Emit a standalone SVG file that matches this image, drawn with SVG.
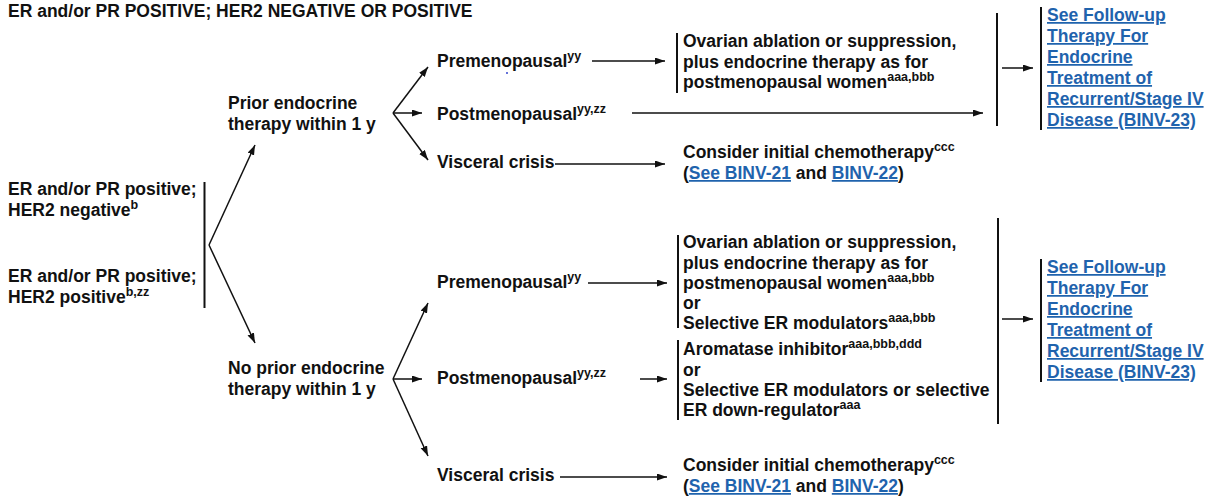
<svg xmlns="http://www.w3.org/2000/svg" width="1210" height="497" viewBox="0 0 1210 497">
  <style>
    text { font-family: "Liberation Sans", Arial, sans-serif; font-weight: bold; font-size: 17.5px; fill: #111; }
    .sup { font-size: 12.5px; }
    .link { fill: #1f63ad; text-decoration: underline; }
    .bar { stroke: #111; stroke-width: 2; fill: none; }
    .conn { stroke: #111; stroke-width: 1.5; fill: none; }
    .arrow { marker-end: url(#head); }
  </style>
  <defs>
    <marker id="head" markerUnits="userSpaceOnUse" markerWidth="11" markerHeight="8" refX="10" refY="3.5" orient="auto">
      <path d="M0,0 L10,3.5 L0,7 z" fill="#111"/>
    </marker>
  </defs>

  <rect width="1210" height="497" fill="#fff"/>

  <!-- heading -->
  <g id="title">
    <text x="8" y="16.5">ER and/or PR POSITIVE; HER2 NEGATIVE OR POSITIVE</text>
  </g>

  <!-- entry criteria -->
  <g id="receptor-status">
    <text x="8" y="195">ER and/or PR positive;</text>
    <text x="8" y="216">HER2 negative<tspan class="sup" dy="-7">b</tspan></text>
    <text x="8" y="282">ER and/or PR positive;</text>
    <text x="8" y="303">HER2 positive<tspan class="sup" dy="-7">b,zz</tspan></text>
    <line class="bar" x1="204.5" y1="182" x2="204.5" y2="308"/>
  </g>

  <g id="prior-endocrine">
    <text x="228" y="109">Prior endocrine</text>
    <text x="228" y="130">therapy within 1 y</text>
  </g>

  <g id="no-prior-endocrine">
    <text x="228" y="374">No prior endocrine</text>
    <text x="228" y="395">therapy within 1 y</text>
  </g>

  <!-- prior therapy branch -->
  <g id="prior-premenopausal">
    <text x="437" y="67">Premenopausal<tspan class="sup" dy="-7.5">yy</tspan></text>
  </g>
  <g id="prior-postmenopausal">
    <text x="437" y="120">Postmenopausal<tspan class="sup" dy="-7.5">yy,zz</tspan></text>
  </g>
  <g id="prior-visceral">
    <text x="437" y="168">Visceral crisis</text>
  </g>

  <g id="prior-ovarian">
    <line class="bar" x1="677" y1="33" x2="677" y2="93"/>
    <text x="683" y="47">Ovarian ablation or suppression,</text>
    <text x="683" y="67.5">plus endocrine therapy as for</text>
    <text x="683" y="88">postmenopausal women<tspan class="sup" dy="-7">aaa,bbb</tspan></text>
  </g>

  <g id="prior-chemo">
    <text x="683" y="158">Consider initial chemotherapy<tspan class="sup" dy="-7.5">ccc</tspan></text>
    <text x="683" y="179">(<tspan class="link">See BINV-21</tspan> and <tspan class="link">BINV-22</tspan>)</text>
  </g>

  <g id="prior-followup">
    <line class="bar" x1="997" y1="13" x2="997" y2="126"/>
    <line class="bar" x1="1041" y1="7" x2="1041" y2="130"/>
    <text class="link" x="1047" y="21">See Follow-up</text>
    <text class="link" x="1047" y="42">Therapy For</text>
    <text class="link" x="1047" y="63">Endocrine</text>
    <text class="link" x="1047" y="84">Treatment of</text>
    <text class="link" x="1047" y="105">Recurrent/Stage IV</text>
    <text class="link" x="1047" y="126">Disease (BINV-23)</text>
  </g>

  <!-- no prior therapy branch -->
  <g id="noprior-premenopausal">
    <text x="437" y="288">Premenopausal<tspan class="sup" dy="-7.5">yy</tspan></text>
  </g>
  <g id="noprior-postmenopausal">
    <text x="437" y="384">Postmenopausal<tspan class="sup" dy="-7.5">yy,zz</tspan></text>
  </g>
  <g id="noprior-visceral">
    <text x="437" y="481">Visceral crisis</text>
  </g>

  <g id="noprior-ovarian">
    <line class="bar" x1="678" y1="235" x2="678" y2="328"/>
    <text x="683" y="248">Ovarian ablation or suppression,</text>
    <text x="683" y="268.5">plus endocrine therapy as for</text>
    <text x="683" y="289">postmenopausal women<tspan class="sup" dy="-7">aaa,bbb</tspan></text>
    <text x="683" y="309">or</text>
    <text x="683" y="329">Selective ER modulators<tspan class="sup" dy="-7">aaa,bbb</tspan></text>
  </g>

  <g id="noprior-aromatase">
    <line class="bar" x1="678" y1="340" x2="678" y2="420"/>
    <text x="683" y="355">Aromatase inhibitor<tspan class="sup" dy="-7">aaa,bbb,ddd</tspan></text>
    <text x="683" y="375.5">or</text>
    <text x="683" y="396">Selective ER modulators or selective</text>
    <text x="683" y="416">ER down-regulator<tspan class="sup" dy="-7">aaa</tspan></text>
  </g>

  <g id="noprior-chemo">
    <text x="683" y="471">Consider initial chemotherapy<tspan class="sup" dy="-7.5">ccc</tspan></text>
    <text x="683" y="492">(<tspan class="link">See BINV-21</tspan> and <tspan class="link">BINV-22</tspan>)</text>
  </g>

  <g id="noprior-followup">
    <line class="bar" x1="998" y1="218" x2="998" y2="424"/>
    <line class="bar" x1="1041" y1="259" x2="1041" y2="382"/>
    <text class="link" x="1047" y="273">See Follow-up</text>
    <text class="link" x="1047" y="294">Therapy For</text>
    <text class="link" x="1047" y="315">Endocrine</text>
    <text class="link" x="1047" y="336">Treatment of</text>
    <text class="link" x="1047" y="357">Recurrent/Stage IV</text>
    <text class="link" x="1047" y="378">Disease (BINV-23)</text>
  </g>

  <!-- stray mark under the upper Premenopausal label -->
  <circle cx="507" cy="73" r="1" fill="#3344cc"/>

  <g id="connectors">
    <line class="conn arrow" x1="209" y1="245" x2="255" y2="145"/>
    <line class="conn arrow" x1="209" y1="245" x2="255" y2="343"/>

    <line class="conn arrow" x1="393" y1="113" x2="428" y2="67"/>
    <line class="conn arrow" x1="393" y1="113" x2="422" y2="113"/>
    <line class="conn arrow" x1="393" y1="113" x2="428" y2="160"/>

    <line class="conn arrow" x1="393" y1="379" x2="428" y2="303"/>
    <line class="conn arrow" x1="393" y1="379" x2="422" y2="379"/>
    <line class="conn arrow" x1="393" y1="379" x2="428" y2="456"/>

    <line class="conn arrow" x1="592" y1="61" x2="665" y2="61"/>
    <line class="conn arrow" x1="632" y1="113" x2="983" y2="113"/>
    <line class="conn arrow" x1="555" y1="164" x2="665" y2="164"/>
    <line class="conn arrow" x1="1002" y1="68" x2="1033" y2="68"/>

    <line class="conn arrow" x1="588" y1="283" x2="667" y2="283"/>
    <line class="conn arrow" x1="640" y1="379" x2="667" y2="379"/>
    <line class="conn arrow" x1="560" y1="477" x2="667" y2="477"/>
    <line class="conn arrow" x1="1002" y1="319" x2="1033" y2="319"/>
  </g>
</svg>
